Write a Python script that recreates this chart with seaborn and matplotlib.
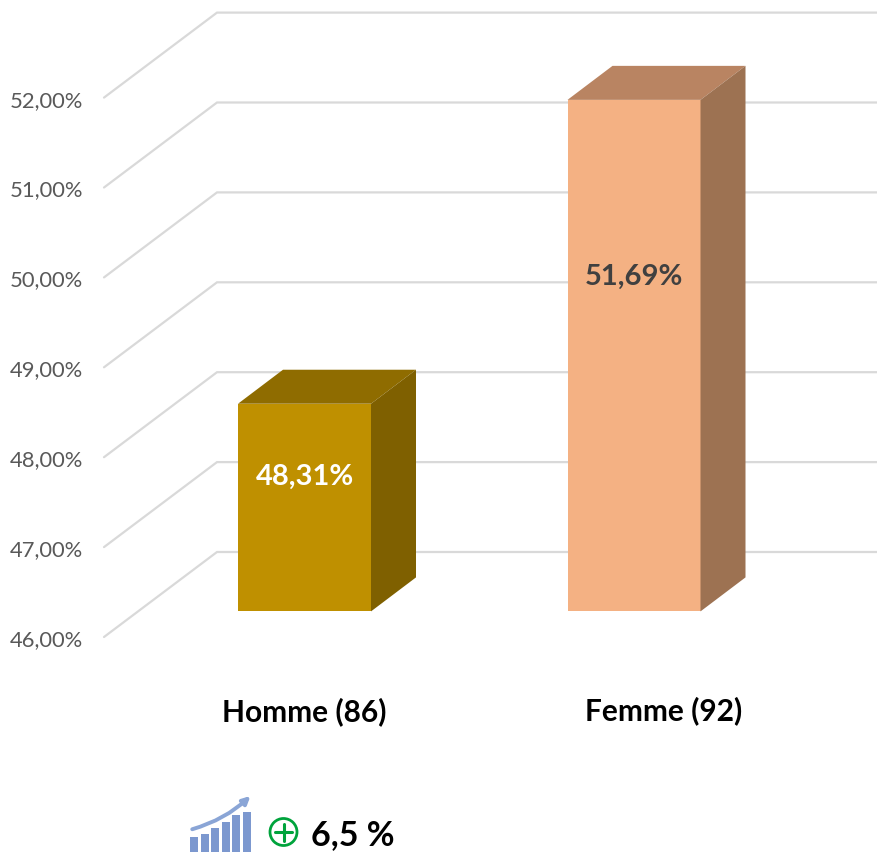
import matplotlib
matplotlib.use("Agg")
import matplotlib.pyplot as plt
from matplotlib.patches import Polygon, FancyArrowPatch, Circle
from matplotlib.lines import Line2D
from matplotlib.transforms import ScaledTranslation
import seaborn as sns
import pandas as pd

# ---- data ----
categories = ["Homme (86)", "Femme (92)"]
values = [48.31, 51.69]
value_labels = ["48,31%", "51,69%"]
label_colors = ["white", "#404040"]
front_colors = ["#BF9000", "#F4B183"]
top_colors = ["#8F6C00", "#B98462"]
side_colors = ["#7F6000", "#9D7252"]
y_ticks = [46, 47, 48, 49, 50, 51, 52]
y_tick_labels = ["46,00%", "47,00%", "48,00%", "49,00%", "50,00%", "51,00%", "52,00%"]
icon_bars = [15, 18, 24, 30, 37, 40]
note = "6,5 %"

W, H = 877, 854
sns.set_theme(style="white")
plt.rcParams["font.family"] = ["Lato", "DejaVu Sans"]
fig = plt.figure(figsize=(W / 100, H / 100), dpi=100)

# axes frame in pixels
L, R, T, B = 90, 877, 0, 690
ax = fig.add_axes([L / W, 1 - B / H, (R - L) / W, (B - T) / H])
PX_Y = 89.9       # pixels per percentage point
PX_X = 329.5      # pixels per category step
Y0_PX = 612.4     # pixel row of value 46 on the bar plane
X0_PX = 304.5     # pixel column of first category

df = pd.DataFrame({"cat": categories, "val": values})
sns.barplot(data=df, x="cat", y="val", hue="cat", palette=front_colors, dodge=False,
            width=133 / PX_X, legend=False, saturation=1, ax=ax, linewidth=0, zorder=3)

ax.set_xlim((L - X0_PX) / PX_X, (R - X0_PX) / PX_X)
ax.set_ylim(46 - (B - Y0_PX) / PX_Y, 46 + (Y0_PX - T) / PX_Y)

base = y_ticks[0]
depth_x = 45 / PX_X
depth_y = 34 / PX_Y
wall_y = (Y0_PX - 553) / PX_Y        # back wall lift
wall_x = (217 - X0_PX) / PX_X        # back wall left edge
floor_x = (104 - X0_PX) / PX_X       # front end of side-wall lines
floor_y = (Y0_PX - 638) / PX_Y       # front lift of side-wall lines
grid_c = "#D9D9D9"
for v in y_ticks:
    ax.plot([floor_x, wall_x, (R - X0_PX) / PX_X], [v + floor_y, v + wall_y, v + wall_y],
            color=grid_c, lw=1.6, zorder=1, clip_on=False, solid_joinstyle="miter")

# bars as 3D boxes
for i, (p, v) in enumerate(zip(ax.patches, values)):
    p.set_y(base)
    p.set_height(v - base)
    x0, x1 = p.get_x(), p.get_x() + p.get_width()
    ax.add_patch(Polygon([(x0, v), (x1, v), (x1 + depth_x, v + depth_y), (x0 + depth_x, v + depth_y)],
                         closed=True, facecolor=top_colors[i], edgecolor="none", zorder=3))
    ax.add_patch(Polygon([(x1, base), (x1, v), (x1 + depth_x, v + depth_y), (x1 + depth_x, base + depth_y)],
                         closed=True, facecolor=side_colors[i], edgecolor="none", zorder=3))
    ax.text(i, base + 0.655 * (v - base), value_labels[i], color=label_colors[i], fontsize=21,
            fontweight="bold", ha="center", va="center", zorder=5)

# axis ticks and labels
ax.set_yticks([v + floor_y for v in y_ticks])
ax.set_yticklabels(y_tick_labels, fontsize=15.8, color="#595959")
ax.set_xticks(range(len(categories)))
ax.set_xticklabels(categories, fontsize=21.5, fontweight="bold", color="black")
ax.tick_params(axis="y", length=0, pad=5)
ax.tick_params(axis="x", length=0, pad=5.5)
# the second category label sits right of its bar in the reference
lab = ax.get_xticklabels()[1]
lab.set_transform(lab.get_transform() + ScaledTranslation(30 / 100, 1 / 100, fig.dpi_scale_trans))
ax.set_xlabel("")
ax.set_ylabel("")
sns.despine(ax=ax, left=True, bottom=True)
ax.patch.set_alpha(0)

# small trend icon
ix0, ix1, iy0, iy1 = 188, 253, 790, 853
iax = fig.add_axes([ix0 / W, 1 - iy1 / H, (ix1 - ix0) / W, (iy1 - iy0) / H])
sns.barplot(x=list(range(len(icon_bars))), y=icon_bars, color="#7C98CF", saturation=1,
            width=0.75, ax=iax, linewidth=0)
iax.set_xlim(-0.6, 5.6)
iax.set_ylim(0, iy1 - iy0)
iax.axis("off")
iax.add_patch(FancyArrowPatch((-0.45, 22), (5.55, 58), connectionstyle="arc3,rad=0.13",
                              arrowstyle="-|>", mutation_scale=11, color="#8AA5D6", lw=2.8))

def fx(px): return px / W
def fy(py): return 1 - py / H

green = "#00A33C"
fig.add_artist(Circle((283.5, H - 833), 13.5, transform=None, fill=False, edgecolor=green, lw=2.0))
fig.add_artist(Line2D([fx(275), fx(292)], [fy(833), fy(833)], color=green, lw=2.2))
fig.add_artist(Line2D([fx(283.5), fx(283.5)], [fy(824.5), fy(841.5)], color=green, lw=2.2))
fig.text(fx(311), fy(835), note, fontsize=24.5, fontweight="bold", color="black", ha="left", va="center")

fig.savefig("out.png", dpi=100, facecolor="white")
